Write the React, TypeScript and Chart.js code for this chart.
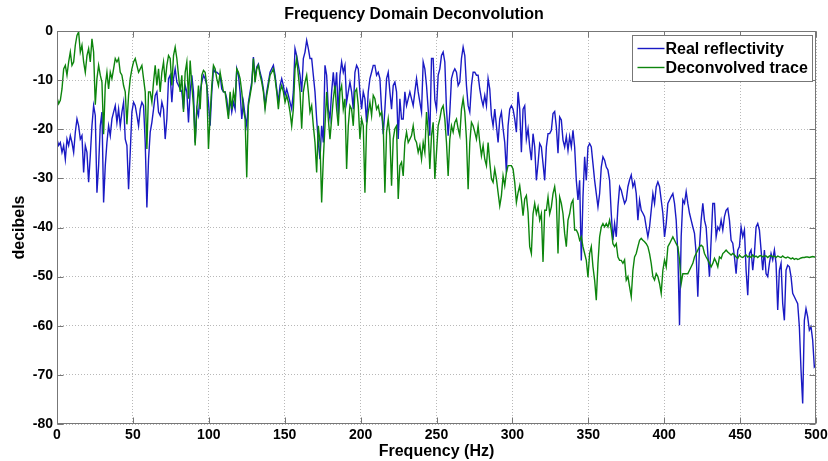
import React, { useEffect, useRef } from 'react';
import { Chart, registerables } from 'chart.js';

Chart.register(...registerables);

const TITLE = 'Frequency Domain Deconvolution';
const X_LABEL = 'Frequency (Hz)';
const Y_LABEL = 'decibels';
const SERIES_NAMES = ['Real reflectivity', 'Deconvolved trace'];
const SERIES_COLORS = ['#1a1ac4', '#0d850d'];
const X_MIN = 0;
const X_MAX = 500;
const X_TICK_STEP = 50;
const Y_MIN = -80;
const Y_MAX = 0;
const Y_TICK_STEP = 10;
// spectra are sampled on a uniform frequency grid of 457 bins from 0 to 500 Hz
const HZ_PER_BIN = 500 / 456;

const realReflectivityDb = [
  -22.0, -23.3, -22.7, -24.7, -23.3, -26.1, -22.0, -23.3, -21.3, -22.7,
  -24.7, -20.6, -17.9, -19.3, -22.0, -21.3, -28.8, -23.3, -24.7, -30.8,
  -25.4, -19.3, -15.2, -17.2, -32.9, -27.4, -19.3, -16.5, -34.9, -27.4,
  -22.7, -19.3, -21.3, -17.9, -16.5, -15.2, -18.6, -15.9, -19.3, -16.5,
  -14.5, -22.0, -23.3, -32.2, -24.7, -16.5, -14.5, -15.2, -17.2, -19.3,
  -15.9, -14.5, -15.2, -22.7, -35.9, -26.1,
  -20.6, -18.6, -15.9, -13.1, -12.4, -16.5, -17.2, -14.5, -15.9, -22.0,
  -17.9, -9.7, -9.0, -14.5, -9.7, -7.7, -10.4, -11.1, -11.8, -12.4,
  -15.9, -11.1, -12.4, -18.6, -12.4, -9.0, -12.4, -22.7, -15.9, -17.2,
  -12.4, -10.4, -9.0, -9.7, -11.1, -14.5, -19.3, -12.4, -7.7, -8.4,
  -8.4, -8.7, -9.0, -11.8, -12.4, -12.4, -13.8, -17.2, -13.8, -16.5,
  -14.5, -15.9, -7.7, -9.0, -12.4, -17.9, -14.5,
  -17.2, -19.3, -14.5, -12.4, -10.4, -5.3, -9.7, -7.3, -6.7, -8.4,
  -9.7, -11.8, -15.2, -12.4, -10.4, -8.4, -7.7, -7.0, -9.0, -11.8,
  -14.5, -11.1, -9.7, -11.1, -13.1, -11.8, -13.1, -14.5, -15.9, -12.4,
  -3.6, -5.0, -7.0, -9.0, -12.4, -5.6, -4.3, -1.9, -3.6, -5.6,
  -5.6, -9.0, -12.4, -17.9, -22.7, -26.1, -19.3, -22.7, -7.0, -9.0,
  -15.9, -17.9, -12.4, -8.4, -12.4, -8.4, -17.2,
  -9.0, -6.3, -8.4, -7.0, -14.5, -12.4, -10.4, -12.4, -15.9, -8.4,
  -7.0, -7.7, -12.4, -15.9, -12.4, -13.8, -18.6, -12.4, -9.7, -8.4,
  -7.0, -7.0, -9.0, -8.4, -9.7, -15.9, -21.0, -15.9, -9.7, -8.4,
  -12.4, -15.9, -11.1, -10.4, -12.4, -22.0, -13.8, -17.9, -17.9, -12.4,
  -15.2, -13.8, -12.4, -13.8, -15.2, -12.4, -9.7, -12.4, -14.5, -16.5,
  -6.3, -7.7, -11.1, -15.9, -21.3, -5.6, -5.6,
  -14.0, -15.9, -9.0, -7.7, -5.0, -4.3, -6.3, -15.9, -21.3, -16.5,
  -9.7, -8.4, -7.7, -8.4, -11.1, -10.4, -5.6, -3.3, -5.0, -11.1,
  -15.2, -16.5, -11.1, -8.4, -8.4, -9.0, -9.0, -11.8, -13.8, -15.2,
  -13.1, -15.2, -9.7, -11.8, -17.2, -19.3, -15.9, -19.3, -22.7, -17.9,
  -16.5, -19.9, -22.7, -28.8, -19.3, -15.9, -15.2, -15.9, -17.9, -20.6,
  -12.4, -15.9, -24.7, -15.9, -15.2, -22.0, -19.9,
  -23.6, -26.3, -20.9, -23.6, -30.4, -27.0, -22.9, -23.6, -27.0, -30.4,
  -23.6, -20.9, -20.9, -20.2, -16.8, -16.4, -19.5, -24.9, -17.5, -18.1,
  -22.2, -23.6, -21.5, -24.3, -21.5, -23.6, -20.2, -23.6, -30.4, -34.4,
  -30.4, -46.7, -33.8, -25.6, -30.4, -23.6, -22.9, -23.6, -27.0, -30.4,
  -33.1, -35.8, -33.1, -27.7, -25.6, -26.3, -27.7, -28.3, -30.4, -37.2,
  -42.6, -39.2, -41.9, -35.8, -31.7, -32.4, -33.8,
  -35.1, -34.4, -31.7, -30.3, -29.3, -31.7, -30.7, -33.1, -38.5, -34.4,
  -36.5, -37.1, -37.8, -39.9, -41.9, -39.9, -36.5, -33.1, -35.1, -31.7,
  -30.7, -31.7, -34.4, -37.1, -41.9, -39.2, -35.1, -34.4, -33.7, -33.1,
  -35.1, -38.5, -45.3, -59.9, -41.9, -34.4, -35.1, -32.7, -35.1, -37.1,
  -38.5, -39.9, -41.2, -45.3, -54.1, -43.9, -38.5, -35.1, -38.5, -39.9,
  -45.3, -50.0, -42.6, -35.1,
  -35.1, -41.9, -39.9, -40.5, -38.5, -40.5, -37.8, -36.5, -36.1, -38.5,
  -42.6, -43.2, -46.0, -49.4, -44.6, -43.9, -39.9, -41.9, -40.5, -48.7,
  -53.8, -45.3, -44.6, -48.7, -45.3, -39.9, -39.2, -40.5, -44.6, -48.7,
  -44.6, -49.4, -50.0, -47.3, -45.3, -46.6, -44.6, -47.3, -56.8, -48.7,
  -47.3, -55.5, -58.9, -48.7, -47.7, -48.0, -50.0, -53.4, -54.1, -54.8,
  -55.5, -60.2, -69.0, -75.8, -58.9, -56.5, -58.2, -60.9, -60.2, -62.9,
  -68.4, -68.0,
];

const deconvolvedTraceDb = [
  -13.5, -14.8, -14.1, -11.8, -7.7, -7.0, -9.0, -6.3, -4.3, -7.0,
  -6.3, -2.9, -0.9, -0.2, -4.3, -2.9, -6.3, -8.4, -5.0, -3.6,
  -6.3, -1.6, -4.3, -15.0, -9.7, -7.0, -9.0, -10.4, -21.0, -11.1,
  -8.4, -11.8, -8.4, -9.7, -7.7, -5.6, -6.3, -5.6, -8.4, -9.0,
  -11.1, -12.4, -19.0, -13.1, -9.7, -7.7, -6.3, -5.6, -7.0, -8.4,
  -7.7, -7.0, -9.7, -12.4, -24.0, -12.4,
  -12.4, -14.5, -10.4, -7.0, -11.1, -7.7, -12.4, -8.4, -6.3, -10.4,
  -7.0, -5.0, -5.6, -11.1, -5.0, -3.3, -5.6, -9.0, -12.4, -9.0,
  -16.5, -8.4, -6.3, -13.8, -6.0, -11.1, -15.2, -23.3, -15.9, -11.1,
  -15.9, -9.0, -8.0, -8.4, -11.1, -24.0, -17.2, -11.1, -7.0, -7.7,
  -9.7, -11.1, -8.4, -10.4, -12.4, -12.4, -15.2, -17.9, -12.4, -15.9,
  -12.4, -14.5, -7.7, -8.4, -9.7, -12.4, -15.9,
  -17.9, -29.8, -15.2, -13.1, -11.1, -5.6, -10.4, -7.7, -7.0, -9.0,
  -10.4, -12.4, -15.9, -13.1, -11.1, -9.0, -8.4, -7.7, -9.7, -12.4,
  -15.9, -12.4, -11.1, -12.4, -14.5, -13.1, -14.5, -16.5, -19.3, -15.9,
  -7.7, -5.6, -9.0, -12.4, -19.9, -12.4, -10.4, -9.0, -12.4, -16.5,
  -15.2, -19.3, -22.7, -28.8, -19.3, -22.7, -34.9, -26.1, -19.3, -12.4,
  -17.9, -22.0, -17.9, -13.8, -11.1, -15.9, -19.3,
  -12.4, -11.1, -15.9, -13.8, -28.1, -19.3, -15.2, -15.9, -19.3, -12.4,
  -11.8, -15.2, -22.0, -17.9, -19.3, -32.9, -19.3, -16.5, -14.5, -17.2,
  -13.1, -13.8, -15.9, -15.2, -17.2, -16.5, -19.3, -32.9, -20.6, -17.9,
  -21.3, -31.5, -22.0, -19.9, -19.3, -34.2, -27.4, -26.7, -29.5, -22.7,
  -20.6, -22.7, -22.0, -21.3, -19.3, -22.0, -22.7, -24.7, -23.3, -26.1,
  -22.7, -24.7, -16.5, -20.6, -28.1, -21.3, -18.6,
  -30.1, -24.7, -19.3, -17.9, -15.9, -15.2, -17.9, -22.7, -29.5, -22.0,
  -19.3, -20.6, -18.6, -17.9, -19.9, -21.3, -15.9, -13.8, -16.5, -22.0,
  -32.2, -22.7, -18.6, -19.3, -20.6, -22.0, -19.3, -22.7, -25.4, -23.3,
  -26.1, -27.4, -22.7, -26.7, -30.1, -30.8, -28.1, -30.1, -32.9, -35.6,
  -33.5, -29.5, -31.5, -28.8, -27.4, -27.4, -27.4, -28.1, -30.8, -34.9,
  -32.9, -31.5, -34.2, -37.6, -34.2, -33.5, -36.9,
  -43.9, -45.3, -37.2, -35.1, -37.2, -35.8, -38.5, -37.2, -47.0, -36.5,
  -36.5, -33.8, -37.2, -35.8, -33.1, -31.7, -34.4, -45.3, -33.8, -35.1,
  -37.2, -41.2, -43.9, -38.5, -37.2, -35.1, -34.4, -40.5, -40.5, -41.2,
  -42.6, -41.9, -43.9, -45.3, -46.7, -50.1, -45.3, -43.9, -48.0, -50.7,
  -54.8, -47.3, -41.9, -39.9, -39.2, -39.9, -39.2, -39.9, -38.5, -40.5,
  -43.3, -43.9, -43.3, -46.0, -46.7, -46.7, -47.3,
  -46.6, -50.7, -50.0, -52.1, -54.1, -48.7, -46.0, -45.3, -43.9, -42.6,
  -42.2, -42.6, -42.9, -43.3, -43.9, -45.3, -47.3, -50.0, -50.7, -49.4,
  -50.0, -51.4, -53.4, -48.7, -46.6, -48.0, -43.9, -43.3, -42.6, -41.9,
  -42.6, -43.3, -43.9, -46.6, -51.4, -49.4, -49.4, -49.4, -49.4, -48.7,
  -48.0, -47.3, -46.0, -45.3, -44.6, -43.9, -43.6, -43.9, -45.3, -46.0,
  -46.6, -47.3, -48.0, -47.3,
  -46.3, -47.0, -48.0, -46.0, -46.3, -45.3, -45.0, -44.6, -45.0, -45.3,
  -45.6, -45.3, -45.6, -46.0, -46.3, -45.6, -46.0, -46.1, -45.8, -45.6,
  -46.0, -45.8, -46.1, -45.6, -46.0, -45.8, -46.1, -45.8, -45.7, -46.0,
  -45.8, -45.8, -46.1, -45.8, -45.7, -46.0, -45.8, -46.1, -45.8, -46.0,
  -46.1, -45.8, -46.1, -46.2, -46.0, -46.2, -46.4, -46.2, -46.5, -46.3,
  -46.5, -46.4, -46.2, -46.1, -46.1, -46.0, -46.0, -46.1, -46.0, -45.9,
  -46.0, -46.0,
];

const FONT_FAMILY = "'Liberation Sans', Arial, Helvetica, sans-serif";
const FRAME_COLOR = '#777777';
const GRID_COLOR = '#b8b8b8';

const toPoints = (db: number[]) => db.map((y, i) => ({ x: i * HZ_PER_BIN, y }));

const matlabFrame = {
  id: 'matlabFrame',
  afterDatasetsDraw(chart: any) {
    const { ctx, chartArea: a, scales } = chart;
    const xs = scales.x;
    const ys = scales.y;
    const L = Math.round(a.left) + 0.5;
    const R = Math.round(a.right) - 0.5;
    const T = Math.round(a.top) + 0.5;
    const B = Math.round(a.bottom) - 0.5;
    ctx.save();
    ctx.strokeStyle = FRAME_COLOR;
    ctx.lineWidth = 1;
    ctx.setLineDash([]);
    ctx.strokeRect(L, T, R - L, B - T);
    const tl = 6;
    ctx.beginPath();
    xs.ticks.forEach((t: any) => {
      const px = Math.round(xs.getPixelForValue(t.value)) + 0.5;
      ctx.moveTo(px, B);
      ctx.lineTo(px, B - tl);
      ctx.moveTo(px, T);
      ctx.lineTo(px, T + tl);
    });
    ys.ticks.forEach((t: any) => {
      const py = Math.round(ys.getPixelForValue(t.value)) + 0.5;
      ctx.moveTo(L, py);
      ctx.lineTo(L + tl, py);
      ctx.moveTo(R, py);
      ctx.lineTo(R - tl, py);
    });
    ctx.stroke();

    // legend box (top-right, inside the axes)
    const lw = 180;
    const lh = 46;
    const lx = Math.round(a.right - 4 - lw) + 0.5;
    const ly = Math.round(a.top + 4) + 0.5;
    ctx.fillStyle = '#ffffff';
    ctx.fillRect(lx, ly, lw, lh);
    ctx.strokeStyle = FRAME_COLOR;
    ctx.strokeRect(lx, ly, lw, lh);
    ctx.font = `bold 16px ${FONT_FAMILY}`;
    ctx.textBaseline = 'middle';
    ctx.textAlign = 'left';
    chart.data.datasets.forEach((ds: any, i: number) => {
      const cy = ly + 13 + i * 19;
      ctx.strokeStyle = ds.borderColor;
      ctx.lineWidth = 1.4;
      ctx.beginPath();
      ctx.moveTo(lx + 5, cy);
      ctx.lineTo(lx + 32, cy);
      ctx.stroke();
      ctx.fillStyle = '#000000';
      ctx.fillText(ds.label, lx + 33, cy + 1);
    });
    ctx.restore();
  },
};

export default function App() {
  const canvasRef = useRef<HTMLCanvasElement | null>(null);

  useEffect(() => {
    if (!canvasRef.current) return;
    const tickFont = { family: FONT_FAMILY, size: 14, weight: 'bold' as const };
    const labelFont = { family: FONT_FAMILY, size: 16, weight: 'bold' as const };
    const chart = new Chart(canvasRef.current, {
      type: 'line',
      data: {
        datasets: [
          {
            label: SERIES_NAMES[0],
            data: toPoints(realReflectivityDb),
            borderColor: SERIES_COLORS[0],
            borderWidth: 1.4,
            pointRadius: 0,
            tension: 0,
            fill: false,
            order: 1,
          },
          {
            label: SERIES_NAMES[1],
            data: toPoints(deconvolvedTraceDb),
            borderColor: SERIES_COLORS[1],
            borderWidth: 1.4,
            pointRadius: 0,
            tension: 0,
            fill: false,
            order: 0,
          },
        ],
      },
      options: {
        responsive: false,
        animation: false,
        devicePixelRatio: 1,
        layout: { padding: { left: 0, right: 0, top: 0, bottom: 0 } },
        plugins: {
          legend: { display: false },
          tooltip: { enabled: false },
          title: {
            display: true,
            text: TITLE,
            color: '#000000',
            font: labelFont,
            padding: { top: 5, bottom: 6.8 },
          },
        },
        scales: {
          x: {
            type: 'linear',
            min: X_MIN,
            max: X_MAX,
            ticks: {
              stepSize: X_TICK_STEP,
              color: '#000000',
              font: tickFont,
              padding: 3,
              maxRotation: 0,
            },
            grid: { color: GRID_COLOR, lineWidth: 1, drawTicks: false },
            border: { display: false, dash: [1, 2] },
            title: {
              display: true,
              text: X_LABEL,
              color: '#000000',
              font: labelFont,
              padding: { top: 0, bottom: 0 },
            },
            afterFit: (scale: any) => {
              scale.height = 37;
              scale.paddingRight = 12;
              scale.paddingLeft = 0;
            },
          },
          y: {
            type: 'linear',
            min: Y_MIN,
            max: Y_MAX,
            ticks: {
              stepSize: Y_TICK_STEP,
              color: '#000000',
              font: tickFont,
              padding: 4,
            },
            grid: { color: GRID_COLOR, lineWidth: 1, drawTicks: false },
            border: { display: false, dash: [1, 2] },
            title: {
              display: true,
              text: Y_LABEL,
              color: '#000000',
              font: labelFont,
              padding: { top: 10, bottom: 0 },
            },
            afterFit: (scale: any) => {
              scale.width = 57;
            },
          },
        },
      },
      plugins: [matlabFrame],
    });
    return () => chart.destroy();
  }, []);

  return (
    <div
      style={{
        position: 'fixed',
        left: 0,
        top: 0,
        width: 828,
        height: 461,
        background: '#ffffff',
      }}
    >
      <canvas ref={canvasRef} width={828} height={461} style={{ display: 'block' }} />
    </div>
  );
}
